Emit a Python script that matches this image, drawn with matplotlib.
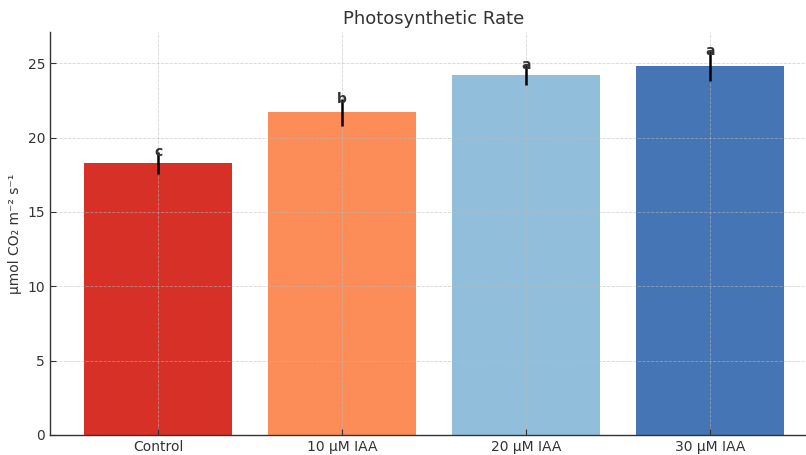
import matplotlib
matplotlib.use("Agg")
import matplotlib.pyplot as plt

categories = ["Control", "10 µM IAA", "20 µM IAA", "30 µM IAA"]
means = [18.3, 21.7, 24.2, 24.8]
errors = [0.75, 0.9, 0.65, 1.0]
letters = ["c", "b", "a", "a"]
colors = ["#d73027", "#fc8d59", "#91bfdb", "#4575b4"]

fig = plt.figure(figsize=(8.06, 4.55), dpi=100)
ax = fig.add_axes([50/806, 20/455, 768/806, 403/455])

x = list(range(len(categories)))
ax.bar(x, means, width=0.8, color=colors, zorder=1)
ax.errorbar(x, means, yerr=errors, fmt="none", ecolor="black",
            elinewidth=1.8, capsize=0, zorder=3)
for i, (m, e, l) in enumerate(zip(means, errors, letters)):
    ax.text(i, m + e, l, ha="center", va="center", fontsize=10,
            fontweight="bold", color="#333333", zorder=4)

ax.set_xticks(x)
ax.set_xticklabels(categories)
ax.set_xlim(-0.587, 3.587)
ax.set_ylim(0, 27.1)
ax.set_yticks([0, 5, 10, 15, 20, 25])
ax.set_title("Photosynthetic Rate", fontsize=13, color="#333333", pad=6)
ax.set_ylabel("µmol CO₂ m⁻² s⁻¹", fontsize=10, color="#333333")
ax.tick_params(direction="in", colors="#333333", labelsize=10, length=4)
ax.grid(True, linestyle="--", color="#bbbbbb", linewidth=0.6, alpha=0.6)
ax.set_axisbelow(False)
for s in ["top", "right"]:
    ax.spines[s].set_visible(False)
for s in ["left", "bottom"]:
    ax.spines[s].set_color("#333333")
    ax.spines[s].set_linewidth(1.0)

fig.savefig("out.png", dpi=100)
